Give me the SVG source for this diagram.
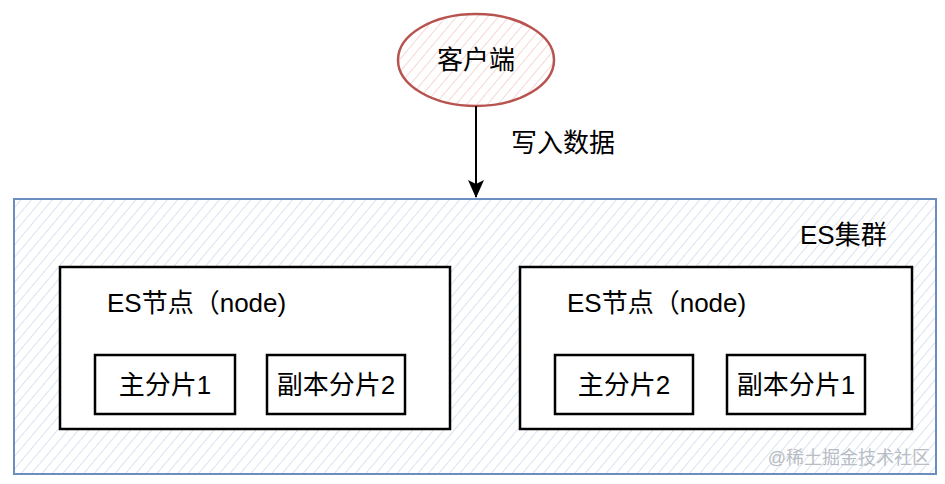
<svg xmlns="http://www.w3.org/2000/svg" width="945" height="484" viewBox="0 0 945 484">
<style>
text{font-family:"Liberation Sans","Noto Sans CJK SC",sans-serif;font-size:26px;fill:#000}
.box{fill:#fff;stroke:#000;stroke-width:2.5}
.shard{fill:#fff;stroke:#000;stroke-width:2.5}
</style>
<defs>
<pattern id="hb" width="8" height="8" patternUnits="userSpaceOnUse" patternTransform="rotate(40)">
<line x1="0" y1="0" x2="0" y2="8" stroke="#bfd0e8" stroke-width="1.2"/>
</pattern>
<pattern id="hr" width="8" height="8" patternUnits="userSpaceOnUse" patternTransform="rotate(40)">
<line x1="0" y1="0" x2="0" y2="8" stroke="#f0bcbc" stroke-width="1.2"/>
</pattern>
<marker id="arr" markerWidth="18" markerHeight="16" refX="17" refY="8" orient="auto" markerUnits="userSpaceOnUse">
<path d="M0,0 L18,8 L0,16 L4,8 Z" fill="#000"/>
</marker>
</defs>
<rect width="945" height="484" fill="#fff"/>
<g id="cluster">
<rect x="14" y="199" width="922" height="275" fill="#fff"/>
<rect x="14" y="199" width="922" height="275" fill="url(#hb)" stroke="#6c8ebf" stroke-width="2"/>
<text x="800" y="244">ES集群</text>
</g>
<g id="client">
<ellipse cx="476" cy="60" rx="78" ry="46" fill="#fff"/>
<ellipse cx="476" cy="60" rx="78" ry="46" fill="url(#hr)" stroke="#b85450" stroke-width="2.5"/>
<text x="476" y="69" text-anchor="middle">客户端</text>
</g>
<g id="connectors">
<line x1="476" y1="106" x2="476" y2="197" stroke="#000" stroke-width="2" marker-end="url(#arr)"/>
<text x="511" y="152">写入数据</text>
</g>
<g id="node1">
<rect class="box" x="60" y="267" width="390" height="162"/>
<text x="107" y="312">ES节点（node)</text>
</g>
<g id="node2">
<rect class="box" x="520" y="267" width="392" height="162"/>
<text x="567" y="312">ES节点（node)</text>
</g>
<g id="shard-p1">
<rect class="shard" x="95" y="355" width="140" height="59"/>
<text x="165" y="394" text-anchor="middle">主分片1</text>
</g>
<g id="shard-r2">
<rect class="shard" x="267" y="355" width="138" height="59"/>
<text x="336" y="394" text-anchor="middle">副本分片2</text>
</g>
<g id="shard-p2">
<rect class="shard" x="555" y="355" width="138" height="59"/>
<text x="624" y="394" text-anchor="middle">主分片2</text>
</g>
<g id="shard-r1">
<rect class="shard" x="727" y="355" width="138" height="59"/>
<text x="796" y="394" text-anchor="middle">副本分片1</text>
</g>
<text x="930" y="464" text-anchor="end" style="font-size:18px;fill:#b8bcc4">@稀土掘金技术社区</text>
</svg>
